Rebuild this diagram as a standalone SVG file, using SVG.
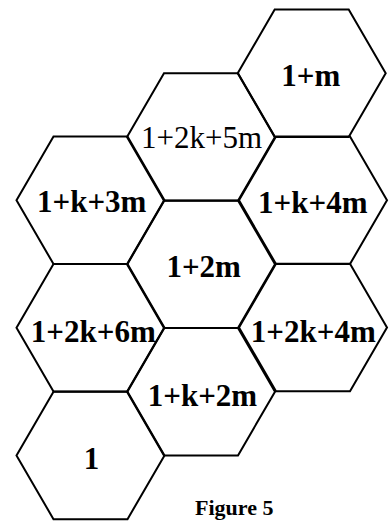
<svg xmlns="http://www.w3.org/2000/svg" width="392" height="521" viewBox="0 0 392 521">
  <style>
    .hex { fill: none; stroke: #000; stroke-width: 2; stroke-linejoin: miter; }
    .lbl { font-family: "Liberation Serif", "Times New Roman", serif; font-size: 31px; font-weight: bold; text-anchor: middle; fill: #000; }
    .reg { font-weight: normal; }
    .cap { font-family: "Liberation Serif", "Times New Roman", serif; font-size: 22px; font-weight: bold; fill: #000; }
  </style>
  <defs>
    <path id="h" d="M -37,-63.7 L 37,-63.7 L 74,0 L 37,63.7 L -37,63.7 L -74,0 Z"/>
  </defs>
  <rect width="392" height="521" fill="#fff"/>
  <g id="n1"><use href="#h" class="hex" x="90.5" y="455.5"/><text class="lbl" x="91.5" y="469.3">1</text></g>
  <g id="n1p2kp6m"><use href="#h" class="hex" x="90.5" y="327.7"/><text class="lbl" x="93.3" y="341.7">1+2k+6m</text></g>
  <g id="n1pkp3m"><use href="#h" class="hex" x="90.5" y="200.3"/><text class="lbl" x="91.7" y="211.7">1+k+3m</text></g>
  <g id="n1pkp2m"><use href="#h" class="hex" x="201" y="391.7"/><text class="lbl" x="202.5" y="405.7">1+k+2m</text></g>
  <g id="n1p2m"><use href="#h" class="hex" x="201" y="264.2"/><text class="lbl" x="203.7" y="277.3">1+2m</text></g>
  <g id="n1p2kp5m"><use href="#h" class="hex" x="201" y="137"/><text class="lbl reg" x="201.5" y="147.7">1+2k+5m</text></g>
  <g id="n1p2kp4m"><use href="#h" class="hex" x="313" y="327.5"/><text class="lbl" x="313.3" y="341.7">1+2k+4m</text></g>
  <g id="n1pkp4m"><use href="#h" class="hex" x="313" y="200.3"/><text class="lbl" x="312.8" y="213.3">1+k+4m</text></g>
  <g id="n1pm"><use href="#h" class="hex" x="311.7" y="73.3"/><text class="lbl" x="310.8" y="86">1+m</text></g>
  <g id="connectors"></g>
  <text class="cap" x="195" y="515">Figure 5</text>
</svg>
